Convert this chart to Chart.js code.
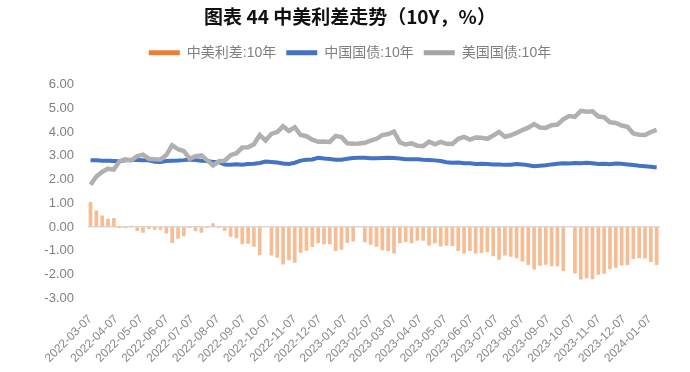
<!DOCTYPE html>
<html>
<head>
<meta charset="utf-8">
<script src="https://cdn.jsdelivr.net/npm/chart.js@4.4.0/dist/chart.umd.min.js"></script>
<style>
  html, body { margin: 0; padding: 0; background: #fff; }
</style>
</head>
<body>
<canvas id="chart" width="690" height="372"></canvas>
<script>
// weekly readings (Mondays), starting 2022-03-07
const startDate = '2022-03-07';

// 美国国债:10年
const usYield = [
  1.78, 2.13, 2.32, 2.46, 2.42, 2.78, 2.85, 2.81, 2.99, 3.05,
  2.88, 2.86, 2.85, 3.04, 3.45, 3.28, 3.20, 2.88, 2.99, 3.02,
  2.81, 2.60, 2.77, 2.79, 3.03, 3.11, 3.35, 3.36, 3.49, 3.88,
  3.65, 3.93, 4.01, 4.25, 4.05, 4.21, 3.88, 3.83, 3.68, 3.60,
  3.61, 3.59, 3.84, 3.79, 3.53, 3.51, 3.52, 3.55, 3.64, 3.72,
  3.88, 3.92, 4.02, 3.57, 3.48, 3.53, 3.43, 3.41, 3.60, 3.49,
  3.59, 3.51, 3.50, 3.72, 3.80, 3.69, 3.77, 3.76, 3.72, 3.86,
  4.01, 3.81, 3.87, 3.97, 4.09, 4.19, 4.34, 4.20, 4.18, 4.29,
  4.32, 4.54, 4.68, 4.65, 4.90, 4.86, 4.88, 4.66, 4.63, 4.42,
  4.39, 4.28, 4.23, 3.95, 3.89, 3.88, 4.01, 4.10
];

// 中国国债:10年
const cnYield = [
  2.82, 2.81, 2.79, 2.79, 2.78, 2.77, 2.81, 2.83, 2.83, 2.82,
  2.81, 2.75, 2.74, 2.78, 2.79, 2.80, 2.82, 2.85, 2.82, 2.79,
  2.78, 2.74, 2.74, 2.64, 2.63, 2.65, 2.63, 2.66, 2.67, 2.70,
  2.76, 2.74, 2.72, 2.68, 2.66, 2.71, 2.80, 2.84, 2.85, 2.92,
  2.89, 2.87, 2.84, 2.84, 2.88, 2.91, 2.92, 2.92, 2.90, 2.90,
  2.91, 2.92, 2.91, 2.89, 2.86, 2.86, 2.86, 2.84, 2.83, 2.81,
  2.78, 2.73, 2.71, 2.72, 2.69, 2.69, 2.66, 2.67, 2.66, 2.64,
  2.64, 2.62, 2.63, 2.66, 2.64, 2.60, 2.56, 2.58, 2.60, 2.64,
  2.67, 2.69, 2.68, 2.70, 2.69, 2.71, 2.69, 2.66, 2.67, 2.65,
  2.68, 2.67, 2.64, 2.61, 2.58, 2.56, 2.54, 2.51
];

// 中美利差:10年 (null = China holiday weeks)
const spread = [
  1.04, 0.68, 0.47, 0.33, 0.36, -0.01, -0.04, 0.02, -0.16, -0.23,
  -0.07, -0.11, -0.11, -0.26, -0.66, -0.48, -0.38, -0.03, -0.17, -0.23,
  -0.03, 0.14, -0.03, -0.15, -0.40, -0.46, -0.72, -0.70, -0.82, -1.18,
  null, -1.19, -1.29, -1.57, -1.39, -1.50, -1.08, -0.99, -0.83, -0.68,
  -0.72, -0.72, -1.00, -0.95, -0.65, -0.60, null, -0.63, -0.74, -0.82,
  -0.97, -1.00, -1.11, -0.68, -0.62, -0.67, -0.57, -0.57, -0.77, -0.68,
  -0.81, -0.78, -0.79, -1.00, -1.11, -1.00, -1.11, -1.09, -1.06, -1.22,
  -1.37, -1.19, -1.24, -1.31, -1.45, -1.59, -1.78, -1.62, -1.58, -1.65,
  -1.65, -1.85, null, -1.95, -2.21, -2.15, -2.19, -2.00, -1.96, -1.77,
  -1.71, -1.61, -1.59, -1.34, -1.31, -1.32, -1.47, -1.59
];

const tickLabels = [
  '2022-03-07', '2022-04-07', '2022-05-07', '2022-06-07', '2022-07-07', '2022-08-07',
  '2022-09-07', '2022-10-07', '2022-11-07', '2022-12-07', '2023-01-07', '2023-02-07',
  '2023-03-07', '2023-04-07', '2023-05-07', '2023-06-07', '2023-07-07', '2023-08-07',
  '2023-09-07', '2023-10-07', '2023-11-07', '2023-12-07', '2024-01-07'
];

const seriesNames = ['中美利差:10年', '中国国债:10年', '美国国债:10年'];
const colors = ['#F6BC93', '#4472C4', '#B0B0B0'];
const legendColors = ['#ED7D31', '#4472C4', '#A5A5A5'];

const DAY = 86400000;
const t0 = Date.parse(startDate);
const dayOf = (s) => Math.round((Date.parse(s) - t0) / DAY);
const weekDays = usYield.map((_, i) => i * 7);
const toPoints = (arr) => arr.map((v, i) => ({ x: weekDays[i], y: v }));
const tickDays = tickLabels.map(dayOf);

const textGray = '#7f7f7f';
const latin = "'Liberation Sans', 'Noto Sans CJK SC', sans-serif";

// add a little room under the legend
const legendGap = {
  id: 'legendGap',
  beforeLayout(chart) {
    const lg = chart.legend;
    if (lg && !lg._gapPatched) {
      const fit = lg.fit;
      lg.fit = function () { fit.call(this); this.height += 15; };
      lg._gapPatched = true;
    }
  }
};

new Chart(document.getElementById('chart'), {
  type: 'bar',
  data: {
    datasets: [
      {
        type: 'bar',
        label: seriesNames[0],
        data: toPoints(spread),
        backgroundColor: colors[0],
        barThickness: 3,
        order: 2
      },
      {
        type: 'line',
        label: seriesNames[1],
        data: toPoints(cnYield),
        borderColor: colors[1],
        borderWidth: 4,
        pointRadius: 0,
        tension: 0,
        spanGaps: true,
        order: 1
      },
      {
        type: 'line',
        label: seriesNames[2],
        data: toPoints(usYield),
        borderColor: colors[2],
        borderWidth: 4.5,
        pointRadius: 0,
        tension: 0,
        spanGaps: true,
        order: 0
      }
    ]
  },
  options: {
    responsive: false,
    animation: false,
    layout: { padding: { left: 10, right: 0, top: 0, bottom: 0 } },
    plugins: {
      title: {
        display: true,
        text: '图表 44 中美利差走势（10Y，%）',
        color: '#111',
        font: { family: "'Noto Sans CJK SC', sans-serif", size: 19, weight: 'bold' },
        padding: { top: 5, bottom: 8 }
      },
      legend: {
        display: true,
        position: 'top',
        labels: {
          boxWidth: 31,
          boxHeight: 5,
          padding: 10,
          color: textGray,
          font: { family: latin, size: 14 },
          sort: (a, b) => a.datasetIndex - b.datasetIndex,
          generateLabels: (chart) => chart.data.datasets.map((ds, i) => ({
            text: ds.label,
            fillStyle: legendColors[i],
            strokeStyle: legendColors[i],
            lineWidth: 0,
            hidden: false,
            datasetIndex: i,
            fontColor: textGray
          }))
        }
      },
      tooltip: { enabled: false }
    },
    scales: {
      x: {
        type: 'linear',
        min: -3,
        max: 683,
        offset: false,
        grid: { display: false, offset: false },
        border: { display: false },
        afterBuildTicks: (scale) => { scale.ticks = tickDays.map(v => ({ value: v })); },
        afterFit: (scale) => { scale.height = 74; },
        ticks: {
          autoSkip: false,
          minRotation: 45,
          maxRotation: 45,
          padding: 6,
          color: '#8a8a8a',
          font: { family: latin, size: 12 },
          callback: (value, index) => tickLabels[index]
        }
      },
      y: {
        min: -3,
        max: 6,
        afterFit: (scale) => { scale.width = 78; },
        border: { display: false },
        grid: {
          drawTicks: false,
          lineWidth: 1.5,
          color: (ctx) => (ctx.tick && ctx.tick.value === 0 ? '#D9D9D9' : 'rgba(0,0,0,0)')
        },
        ticks: {
          stepSize: 1,
          padding: 14,
          color: textGray,
          font: { family: latin, size: 13 },
          callback: (v) => Number(v).toFixed(2)
        }
      },
      yRight: {
        position: 'right',
        display: true,
        grid: { display: false },
        border: { display: false },
        ticks: { display: false },
        afterFit: (scale) => { scale.width = 30; }
      }
    }
  },
  plugins: [legendGap]
});
</script>
</body>
</html>
